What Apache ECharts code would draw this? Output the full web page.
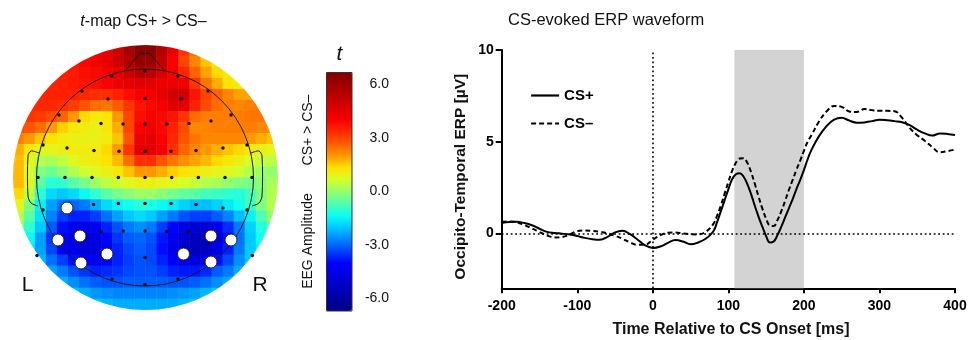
<!DOCTYPE html>
<html><head><meta charset="utf-8">
<script src="https://cdn.jsdelivr.net/npm/echarts@6/dist/echarts.min.js"></script>
<style>html,body{margin:0;padding:0;background:#fff}#c{width:969px;height:340px}</style>
</head><body><div id="c"></div>
<script>
// ---------- ERP waveform data ----------
const times = [-200,-190,-180,-170,-160,-150,-140,-130,-120,-110,-100,-90,-80,-70,-60,-50,-40,-30,-20,-10,0,10,20,30,40,50,60,70,80,
  85,90,95,100,105,110,115,120,125,130,135,140,145,150,155,160,165,170,175,180,185,190,195,200,205,
  210,220,230,240,250,260,270,280,290,300,310,320,330,340,350,360,370,380,390,400];
const csPlus = [0.56,0.62,0.63,0.56,0.44,0.25,0.08,0.02,-0.02,-0.07,-0.15,-0.25,-0.32,-0.35,-0.2,0.05,0.14,-0.05,-0.35,-0.66,-0.8,-0.72,-0.52,-0.37,-0.45,-0.6,-0.5,-0.3,0.1,
  0.6,1.2,1.8,2.4,2.95,3.22,3.28,3.1,2.7,2.15,1.5,0.9,0.36,-0.15,-0.5,-0.45,-0.1,0.35,0.85,1.35,1.85,2.4,2.9,3.45,4.05,
  4.55,5.3,5.85,6.2,6.3,6.15,6.03,6.05,6.12,6.2,6.17,6.12,6.06,5.9,5.65,5.45,5.33,5.45,5.42,5.36];
const csMinus = [0.63,0.65,0.6,0.45,0.27,0.07,-0.12,-0.23,-0.2,-0.07,0.12,0.15,0.13,0.08,0.0,-0.13,-0.3,-0.5,-0.63,-0.62,-0.35,-0.1,0.03,0.05,-0.01,-0.05,-0.06,0.08,0.5,
  0.95,1.5,2.15,2.8,3.4,3.85,4.08,4.1,3.85,3.35,2.7,2.0,1.35,0.8,0.42,0.4,0.72,1.2,1.75,2.35,2.9,3.45,3.95,4.5,5.0,
  5.35,6.1,6.65,6.95,6.9,6.65,6.62,6.78,6.72,6.68,6.68,6.66,6.3,5.75,5.35,5.05,4.7,4.42,4.48,4.57];
const seriesNames = ['CS+', 'CS–'];
const shadeWindow = [108, 200];
const xTickStep = 100;
const yTicks = [0, 5, 10];

// ---------- topographic t-map (rows top -> bottom, columns left -> right) ----------
const tValues = [
 [3.4,3.4,3.4,3.5,3.6,3.8,4.0,4.2,4.5,5.0,5.8,6.5,6.5,5.6,4.4,3.2,2.4,1.8,1.3,1.1,1.0,1.0,1.1,1.2],
 [3.4,3.4,3.4,3.4,3.5,3.7,3.9,4.1,4.4,4.9,5.6,6.3,6.2,5.2,4.0,3.0,2.2,1.6,1.2,1.0,1.0,1.0,1.1,1.2],
 [3.4,3.4,3.4,3.4,3.5,3.6,3.8,3.9,4.1,4.4,5.0,5.5,5.4,4.8,4.1,3.4,2.6,1.9,1.4,1.1,1.1,1.2,1.3,1.4],
 [3.3,3.3,3.4,3.4,3.5,3.6,3.7,3.8,4.0,4.2,4.4,4.6,4.5,4.3,4.3,4.2,3.2,2.4,1.8,1.3,1.1,1.1,1.2,1.3],
 [3.3,3.3,3.4,3.5,3.5,3.5,3.4,3.3,3.3,3.5,3.8,4.0,4.1,4.4,4.9,4.9,3.7,3.0,2.6,2.2,1.9,1.9,2.1,2.2],
 [3.3,3.3,3.4,3.4,3.3,3.1,2.8,2.5,2.4,2.7,3.2,3.7,3.9,4.1,4.6,4.5,3.5,2.9,2.5,2.3,2.2,2.3,2.4,2.4],
 [3.2,3.2,3.1,2.9,2.6,2.0,1.4,1.1,1.3,2.0,3.0,3.8,4.0,3.9,3.7,3.2,2.5,2.3,2.3,2.3,2.3,2.4,2.4,2.4],
 [2.9,2.8,2.5,2.0,1.5,1.2,1.1,1.0,1.2,1.8,3.0,4.0,4.2,3.9,3.5,2.9,2.2,2.2,2.3,2.3,2.3,2.3,2.2,2.1],
 [2.3,2.0,1.6,1.3,1.1,1.0,1.0,1.0,1.1,1.6,2.8,4.3,4.5,4.0,3.4,2.8,2.4,2.2,2.2,2.2,2.2,2.0,1.8,1.6],
 [1.8,1.2,0.9,0.9,1.0,1.1,1.1,1.1,1.4,2.0,3.2,4.5,4.6,4.1,3.3,2.6,2.2,2.0,1.8,1.6,1.4,1.2,1.0,0.9],
 [1.7,0.9,0.3,0.2,0.4,0.8,1.0,1.1,1.3,1.7,2.5,3.3,3.3,2.8,2.4,2.1,1.9,1.7,1.4,1.2,1.0,0.7,0.5,0.4],
 [1.7,0.7,-0.2,-0.4,-0.1,0.3,0.6,0.8,1.0,1.2,1.6,2.0,2.0,1.8,1.5,1.3,1.2,1.0,0.9,0.8,0.6,0.3,0.1,0.0],
 [1.7,0.8,-0.6,-1.1,-1.0,-0.6,-0.3,0.1,0.4,0.6,0.8,1.0,1.0,0.9,0.8,0.7,0.5,0.3,0.2,0.0,-0.2,-0.3,-0.1,0.2],
 [1.4,0.4,-1.1,-1.8,-2.0,-1.8,-1.4,-1.0,-0.6,-0.3,-0.1,0.1,0.1,-0.1,-0.3,-0.5,-0.6,-0.8,-0.9,-1.0,-1.1,-0.8,-0.2,0.3],
 [0.9,-0.2,-1.5,-2.4,-2.9,-3.0,-2.8,-2.3,-1.8,-1.5,-1.3,-1.1,-1.2,-1.4,-1.6,-1.9,-2.1,-2.1,-1.9,-1.6,-1.3,-0.9,-0.2,0.3],
 [0.4,-0.6,-1.7,-2.7,-3.4,-3.7,-3.7,-3.4,-2.9,-2.4,-2.0,-1.8,-2.0,-2.4,-2.8,-3.2,-3.4,-3.4,-3.1,-2.7,-2.1,-1.5,-0.7,0.0],
 [0.0,-1.0,-2.0,-3.1,-3.9,-4.4,-4.6,-4.3,-3.7,-3.2,-2.8,-2.6,-2.8,-3.4,-4.0,-4.5,-4.9,-4.9,-4.4,-3.6,-2.8,-1.9,-1.1,-0.5],
 [-0.6,-1.4,-2.4,-3.5,-4.2,-4.7,-4.9,-4.7,-4.0,-3.5,-3.1,-3.0,-3.2,-3.8,-4.4,-5.0,-5.4,-5.4,-4.8,-3.9,-2.9,-2.0,-1.3,-0.9],
 [-1.1,-1.6,-2.4,-3.3,-4.0,-4.5,-4.8,-4.7,-4.2,-3.7,-3.3,-3.1,-3.3,-3.9,-4.5,-5.1,-5.5,-5.3,-4.6,-3.7,-2.8,-2.0,-1.5,-1.2],
 [-1.2,-1.5,-2.2,-2.9,-3.4,-3.9,-4.2,-4.3,-4.0,-3.7,-3.4,-3.2,-3.3,-3.7,-4.2,-4.6,-4.8,-4.6,-3.9,-3.3,-2.6,-2.0,-1.6,-1.4],
 [-1.4,-1.5,-1.9,-2.4,-2.8,-3.2,-3.5,-3.7,-3.6,-3.5,-3.3,-3.2,-3.2,-3.4,-3.7,-3.8,-3.8,-3.6,-3.1,-2.8,-2.3,-1.9,-1.7,-1.5],
 [-1.5,-1.6,-1.8,-2.0,-2.3,-2.6,-2.9,-3.1,-3.2,-3.2,-3.1,-3.1,-3.1,-3.1,-3.2,-3.2,-3.1,-2.9,-2.6,-2.3,-2.0,-1.8,-1.7,-1.6],
 [-1.6,-1.7,-1.8,-1.9,-2.0,-2.1,-2.3,-2.5,-2.6,-2.7,-2.7,-2.7,-2.7,-2.7,-2.6,-2.5,-2.4,-2.2,-2.0,-1.9,-1.8,-1.7,-1.7,-1.7],
 [-1.7,-1.7,-1.8,-1.8,-1.9,-1.9,-2.0,-2.1,-2.2,-2.3,-2.3,-2.3,-2.3,-2.3,-2.3,-2.2,-2.1,-2.0,-1.9,-1.8,-1.8,-1.7,-1.7,-1.7]
];
const tRange = [-6.7, 6.7];
const colorbarTicks = [-6, -3, 0, 3, 6];

// electrode positions (head-centred units, +y = front)
const electrodes = [[0,106.5],[-33,101.5],[33,101.5],[-63,86.5],[63,86.5],[-37,78.5],[0,79],[36,78.5],
  [-86,62.5],[86,62.5],[-66,56.5],[66,56.5],[-44,54],[-22,53.5],[0,53.5],[22,53.5],[44,54],
  [-102,32.5],[102,32.5],[-78,29.5],[78,29.5],[-51,27],[-26,26.2],[0,26.2],[26,26.2],[51,27],
  [-107,0],[-80,0],[-53,0],[-26.7,0],[0,0],[26.7,0],[53.3,0],[80,0],[107,0],
  [-51.5,-27],[-26.7,-26],[0,-26],[26,-26],[51,-27],[78,-30.5],[-102,-32.5],[102,-32.5],
  [-44,-54],[-21.7,-53.5],[0,-53.5],[21.7,-54],[43.3,-54],[-108,-78],[0,-80],[107.3,-78],
  [-33,-101.5],[33,-101.5],[0,-107],[0,-133.5]];
const clusterElectrodes = [[-78,-30.5],[-87,-62.5],[-65,-58.5],[-64,-85.5],[-38,-76.5],
  [38.5,-76.5],[66,-58.5],[86,-62.5],[66,-84.5]];
const headRadius = 108.5;
const diskCenter = [0.5, 0];
const diskRadius = 132.5;
const nose = [[-19,107.5],[-5,124.2],[5,124.2],[19,107.5]];
const earLeft = [[-106,24.5],[-114,26.5],[-117,21.5],[-117,-18.5],[-114,-25.5],[-107,-28.5]];
const earRight = [[106,24.5],[114,26.5],[117,21.5],[117,-18.5],[114,-25.5],[107,-28.5]];

// ---------- build ----------
const FONT = "'Liberation Sans', Arial, Helvetica, sans-serif";
const heatData = [];
tValues.forEach((row, j) => row.forEach((v, i) => heatData.push([i, j, v])));
const colIdx = tValues[0].map((_, i) => i);
const rowIdx = tValues.map((_, j) => j);
const jet = ['#000080','#0000A0','#0000C0','#0000DF','#0000FF','#0043FF','#0086FF','#00C9FF','#0DFFF2','#51FFAE',
  '#94FF6C','#D7FF28','#FFE100','#FF9700','#FF5C00','#FF2900','#F90000','#DB0000','#BC0000','#9E0000','#800000'];

function txt(x, y, text, opt) {
  opt = opt || {};
  return {type:'text', x, y, z:10, rotation: opt.rot || 0, silent:true,
    style:{text, fill:'#111', fontSize: opt.size || 14, fontFamily: FONT, fontWeight: opt.weight || 'normal',
      fontStyle: opt.style || 'normal', align: opt.align || 'center', verticalAlign:'middle',
      textAlign: opt.align || 'center', textVerticalAlign:'middle', rich: opt.rich}};
}

const chart = echarts.init(document.getElementById('c'));
chart.setOption({
  animation:false,
  grid:[
    {left:13, top:45, width:265, height:265, outerBoundsMode:'none'},
    {left:13, top:45, width:265, height:265, outerBoundsMode:'none'},
    {left:326, top:72, width:26, height:239, outerBoundsMode:'none'},
    {left:501.7, top:50, width:453.3, height:238.3, outerBoundsMode:'none'}
  ],
  xAxis:[
    {gridIndex:0, type:'category', data:colIdx, show:false},
    {gridIndex:1, type:'value', min:-132, max:133, show:false},
    {gridIndex:2, type:'value', min:0, max:1, show:false},
    {gridIndex:3, type:'value', min:times[0], max:times[times.length-1], interval:xTickStep,
      axisLine:{show:true, onZero:false, lineStyle:{color:'#000', width:2}},
      axisTick:{show:true, length:5, lineStyle:{color:'#000', width:2}},
      axisLabel:{color:'#000', fontWeight:'bold', fontSize:14, margin:11, fontFamily:FONT},
      splitLine:{show:false}}
  ],
  yAxis:[
    {gridIndex:0, type:'category', data:rowIdx, inverse:true, show:false},
    {gridIndex:1, type:'value', min:-132.5, max:132.5, show:false},
    {gridIndex:2, type:'value', min:tRange[0], max:tRange[1], position:'right',
      axisLine:{show:false}, axisTick:{show:false}, splitLine:{show:false},
      axisLabel:{customValues:colorbarTicks, formatter:v => v.toFixed(1), align:'right', margin:37,
        fontSize:14, color:'#111', fontFamily:FONT}},
    {gridIndex:3, type:'value', min:-3, max:10,
      axisLine:{show:true, onZero:false, lineStyle:{color:'#000', width:2}},
      axisTick:{show:true, length:6, customValues:yTicks, lineStyle:{color:'#000', width:2}},
      axisLabel:{customValues:yTicks, color:'#000', fontWeight:'bold', fontSize:14, margin:8, fontFamily:FONT},
      splitLine:{show:false}}
  ],
  visualMap:{type:'continuous', seriesIndex:0, dimension:2, min:tRange[0], max:tRange[1],
    calculable:false, hoverLink:false, show:true, left:326, top:72, itemWidth:26, itemHeight:239,
    padding:0, inRange:{color:jet}, z:4},
  legend:{data:seriesNames, orient:'vertical', left:525, top:83, itemWidth:28, itemHeight:14, itemGap:13,
    selectedMode:false, itemStyle:{opacity:0}, lineStyle:{width:2.2},
    textStyle:{fontWeight:'bold', fontSize:15, color:'#000', fontFamily:FONT}},
  series:[
    {type:'heatmap', xAxisIndex:0, yAxisIndex:0, data:heatData, z:2, silent:true, progressive:0,
      emphasis:{disabled:true}, itemStyle:{borderWidth:0}},
    {type:'custom', xAxisIndex:1, yAxisIndex:1, data:[diskCenter], z:3, silent:true, clip:false,
      renderItem:(p, api) => {
        const c = api.coord([api.value(0), api.value(1)]);
        const r0 = api.size([diskRadius, 0])[0];
        return {type:'ring', shape:{cx:c[0], cy:c[1], r0:r0, r:r0*1.45}, style:{fill:'#fff'}};
      }},
    {type:'custom', xAxisIndex:1, yAxisIndex:1, data:[[0,0]], z:4, silent:true, clip:false,
      renderItem:(p, api) => {
        const c = api.coord([0,0]);
        const r = api.size([headRadius, 0])[0];
        const pts = a => a.map(q => api.coord(q));
        const st = {fill:'none', stroke:'#1a1a1a', lineWidth:1};
        return {type:'group', children:[
          {type:'circle', shape:{cx:c[0], cy:c[1], r}, style:st},
          {type:'polyline', shape:{points:pts(nose)}, style:st},
          {type:'polyline', shape:{points:pts(earLeft), smooth:0.3}, style:st},
          {type:'polyline', shape:{points:pts(earRight), smooth:0.3}, style:st}
        ]};
      }},
    {type:'scatter', xAxisIndex:1, yAxisIndex:1, data:electrodes, symbolSize:3.5, z:5, silent:true,
      itemStyle:{color:'#111', opacity:1}},
    {type:'scatter', xAxisIndex:1, yAxisIndex:1, data:clusterElectrodes, symbolSize:12, z:6, silent:true,
      itemStyle:{color:'#fff', opacity:1, borderColor:'#222', borderWidth:1}},
    {type:'line', xAxisIndex:3, yAxisIndex:3, data:[], z:1, silent:true,
      markArea:{silent:true, itemStyle:{color:'#d3d3d3'}, data:[[{xAxis:shadeWindow[0]},{xAxis:shadeWindow[1]}]]}},
    {type:'line', xAxisIndex:3, yAxisIndex:3, data:[], z:2, silent:true,
      markLine:{silent:true, symbol:['none','none'], label:{show:false}, animation:false,
        lineStyle:{color:'#000', type:[1.8,2.7], width:1.6}, data:[{yAxis:0},{xAxis:0}]}},
    {name:seriesNames[0], type:'line', xAxisIndex:3, yAxisIndex:3, z:3, symbol:'none', smooth:0.4,
      data:times.map((t,i) => [t, csPlus[i]]), lineStyle:{color:'#000', width:2}, itemStyle:{color:'#000'}},
    {name:seriesNames[1], type:'line', xAxisIndex:3, yAxisIndex:3, z:3, symbol:'none', smooth:0.4,
      data:times.map((t,i) => [t, csMinus[i]]), lineStyle:{color:'#000', width:2, type:[5,3]}, itemStyle:{color:'#000'}}
  ],
  graphic:[
    txt(143.5, 21.7, '{i|t}-map CS+ > CS–', {size:16, rich:{i:{fontStyle:'italic', fontSize:16, fontFamily:FONT, fill:'#111'}}}),
    txt(508, 20, 'CS-evoked ERP waveform', {size:16.5, align:'left'}),
    txt(27.5, 285.5, 'L', {size:21}),
    txt(260, 285.5, 'R', {size:21}),
    txt(339.5, 54, 't', {size:21, style:'italic'}),
    txt(308, 130, 'CS+ > CS–', {size:14, rot:Math.PI/2}),
    txt(308, 241, 'EEG Amplitude', {size:14, rot:Math.PI/2}),
    txt(460.5, 176.7, 'Occipito-Temporal ERP [µV]', {size:15.5, weight:'bold', rot:Math.PI/2}),
    txt(731, 330, 'Time Relative to CS Onset [ms]', {size:16, weight:'bold'}),
    {type:'rect', z:10, silent:true, shape:{x:326.5, y:72.5, width:25.5, height:238.5},
      style:{fill:'none', stroke:'#333', lineWidth:1}}
  ]
});
</script>
</body></html>
